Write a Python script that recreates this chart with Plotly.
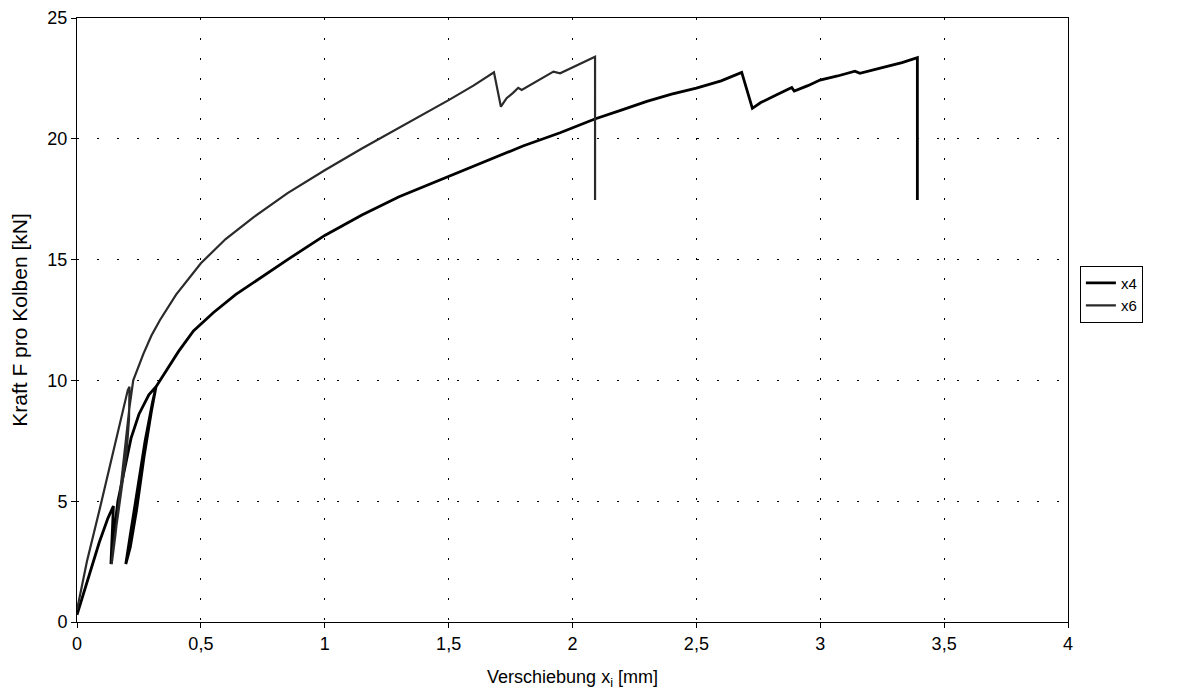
import plotly.graph_objects as go

# x4 curve (thick, black)
x4_x = [0.0, 0.04, 0.09, 0.125, 0.147, 0.137, 0.145, 0.165, 0.19, 0.218, 0.25, 0.29, 0.319,
        0.3, 0.27, 0.24, 0.215, 0.197, 0.215, 0.245, 0.275, 0.305, 0.319,
        0.335, 0.362, 0.41, 0.47, 0.55, 0.64, 0.74, 0.85, 1.0, 1.15, 1.3, 1.5,
        1.654, 1.8, 1.95, 2.09, 2.2, 2.3, 2.4, 2.5, 2.6, 2.683, 2.726, 2.76, 2.82,
        2.885, 2.895, 2.95, 2.999, 3.07, 3.14, 3.16, 3.25, 3.33, 3.392, 3.392]
x4_y = [0.3, 1.6, 3.3, 4.3, 4.8, 2.4, 3.3, 5.0, 6.3, 7.6, 8.6, 9.4, 9.74,
        8.7, 6.8, 4.6, 3.1, 2.4, 3.6, 5.6, 7.5, 9.1, 9.74,
        10.0, 10.43, 11.2, 12.05, 12.8, 13.55, 14.25, 15.0, 16.0, 16.85, 17.6, 18.45,
        19.1, 19.7, 20.25, 20.82, 21.2, 21.55, 21.85, 22.1, 22.4, 22.75, 21.26, 21.5, 21.8,
        22.12, 21.98, 22.2, 22.43, 22.6, 22.8, 22.71, 22.95, 23.15, 23.36, 17.47]

# x6 curve (thin)
x6_x = [0.0, 0.04, 0.09, 0.14, 0.18, 0.205, 0.212, 0.21, 0.2, 0.185, 0.165, 0.145,
        0.14, 0.155, 0.175, 0.195, 0.212, 0.227, 0.268, 0.3, 0.335, 0.4, 0.5, 0.6,
        0.712, 0.85, 1.0, 1.15, 1.3, 1.4, 1.5, 1.6, 1.683, 1.711, 1.734, 1.76,
        1.781, 1.795, 1.85, 1.923, 1.95, 2.02, 2.091, 2.091]
x6_y = [0.5, 2.5, 4.6, 6.8, 8.6, 9.6, 9.74, 8.4, 7.0, 5.8, 4.4, 3.0,
        2.4, 3.6, 5.4, 7.4, 8.9, 10.0, 11.1, 11.85, 12.5, 13.55, 14.85, 15.85,
        16.75, 17.75, 18.7, 19.6, 20.45, 21.0, 21.6, 22.2, 22.75, 21.33, 21.68, 21.9,
        22.11, 22.02, 22.35, 22.78, 22.71, 23.05, 23.4, 17.47]

x_ticks = [0, 0.5, 1, 1.5, 2, 2.5, 3, 3.5, 4]
x_tick_text = ["0", "0,5", "1", "1,5", "2", "2,5", "3", "3,5", "4"]
y_ticks = [0, 5, 10, 15, 20, 25]

fig = go.Figure()
fig.add_trace(go.Scatter(x=x4_x, y=x4_y, mode="lines", name="x4",
                         line=dict(color="#000000", width=2.8)))
fig.add_trace(go.Scatter(x=x6_x, y=x6_y, mode="lines", name="x6",
                         line=dict(color="#2a2a2a", width=2.2)))

font_family = "Liberation Sans, Arial, sans-serif"
grid_dash = "2px,18px"

fig.update_layout(
    width=1174, height=682,
    margin=dict(l=69, r=114, t=10, b=68),
    paper_bgcolor="white", plot_bgcolor="white",
    font=dict(family=font_family, size=18, color="black"),
    separators=",.",
    showlegend=True,
    legend=dict(x=1.012, y=0.59, xanchor="left", yanchor="top",
                bordercolor="black", borderwidth=1, bgcolor="white",
                font=dict(size=15), tracegroupgap=0, itemwidth=30),
    xaxis=dict(range=[0, 4], tickvals=x_ticks, ticktext=x_tick_text,
               tickfont=dict(size=18),
               showgrid=True, gridcolor="black", gridwidth=1, griddash=grid_dash,
               showline=True, linecolor="black", linewidth=1, mirror=True,
               ticks="outside", ticklen=5, tickcolor="black",
               zeroline=False, automargin=False,
               title=dict(text="Verschiebung x<sub>i</sub> [mm]", font=dict(size=18), standoff=20)),
    yaxis=dict(range=[0, 25], tickvals=y_ticks,
               tickfont=dict(size=18),
               showgrid=True, gridcolor="black", gridwidth=1, griddash=grid_dash,
               showline=True, linecolor="black", linewidth=1, mirror=True,
               ticks="outside", ticklen=5, tickcolor="black",
               zeroline=False, automargin=False,
               title=dict(text="Kraft F pro Kolben [kN]", font=dict(size=21), standoff=16)),
)

fig.write_html("out.html")
